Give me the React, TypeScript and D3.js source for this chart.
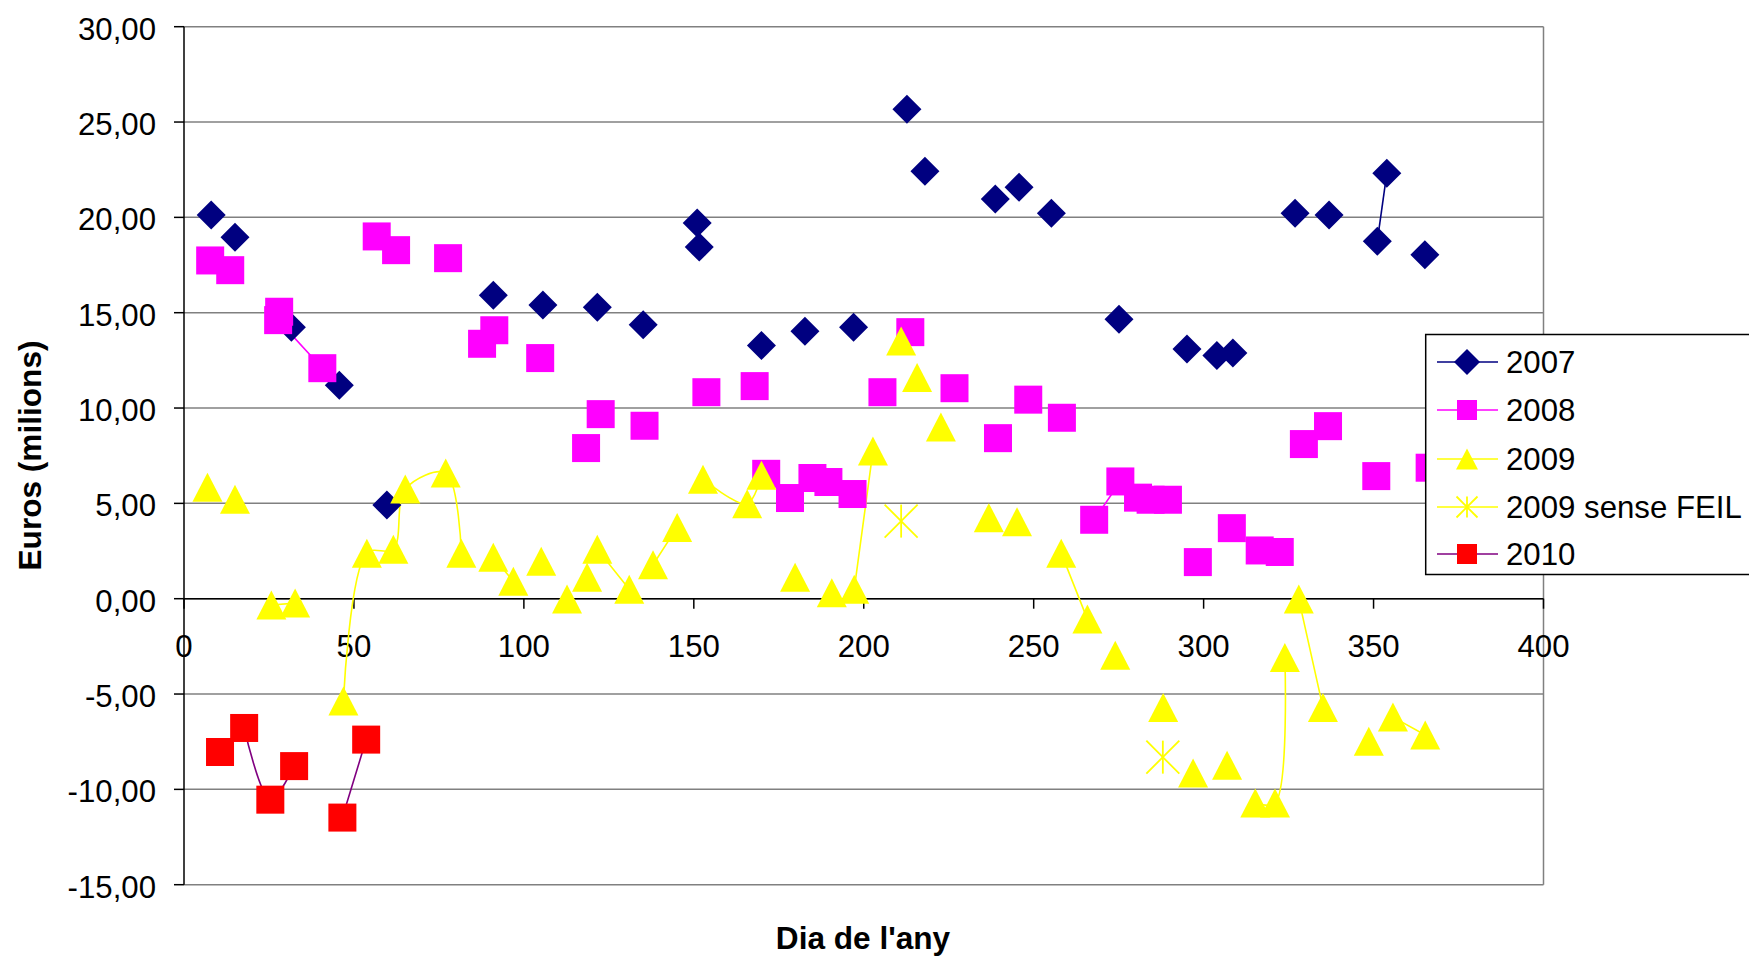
import React from 'react';
import * as d3 from 'd3';

type Pt = [number, number] | null;

// day of year, millions of euros. null = blank row (breaks the line)
const s2007: Pt[] = [
  [8.0, 20.12], null, [15.0, 18.96], null, [31.6, 14.24], null, [45.7, 11.19], null,
  [59.7, 4.91], null, [91.0, 15.92], null, [105.6, 15.4], null, [121.6, 15.29], null,
  [135.1, 14.37], null, [151.0, 19.7], null, [151.6, 18.44], null, [169.9, 13.28], null,
  [182.7, 14.03], null, [197.0, 14.24], null, [212.7, 25.67], null, [218.0, 22.42], null,
  [238.7, 20.96], null, [245.7, 21.58], null, [255.2, 20.22], null, [275.1, 14.66], null,
  [295.1, 13.09], null, [303.9, 12.76], null, [308.6, 12.88], null, [326.9, 20.22], null,
  [336.9, 20.13], null, [351.1, 18.75], [353.9, 22.32], null, [365.1, 18.04],
];

const s2008: Pt[] = [
  [7.7, 17.74], null, [13.6, 17.23], null, [28.0, 15.05], null, [27.7, 14.61], [40.7, 12.09], null,
  [56.7, 19.0], null, [62.4, 18.28], null, [77.7, 17.86], null, [87.7, 13.37], null,
  [91.3, 14.08], null, [104.8, 12.62], null, [118.3, 7.9], null, [122.6, 9.68], null,
  [135.5, 9.07], null, [153.7, 10.83], null, [167.9, 11.15], null, [171.3, 6.55], null,
  [178.3, 5.28], null, [184.9, 6.33], null, [189.6, 6.12], null, [196.7, 5.49], null,
  [205.5, 10.83], null, [213.7, 13.98], null, [226.7, 11.04], null, [239.5, 8.42], null,
  [248.4, 10.44], null, [258.3, 9.49], null, [267.8, 4.14], [275.5, 6.15], null,
  [280.7, 5.3], null, [284.4, 5.19], null, [289.5, 5.19], null, [298.3, 1.92], null,
  [308.3, 3.7], null, [316.5, 2.53], null, [322.4, 2.45], null, [329.5, 8.11], null,
  [336.6, 9.05], null, [350.8, 6.43], null, [366.5, 6.87],
];

const s2009: Pt[] = [
  [6.9, 5.84], null, [15.0, 5.21], null, [25.7, -0.33], [32.7, -0.23], null,
  [46.9, -5.37], [53.8, 2.39], [61.6, 2.6], [65.1, 5.75], [77.0, 6.59], [81.6, 2.39], null,
  [91.0, 2.18], [96.9, 0.92], null, [105.1, 1.97], null, [112.7, -0.02], null,
  [118.6, 1.13], null, [121.6, 2.59], [131.0, 0.49], null, [138.0, 1.78], [145.1, 3.74], null,
  [152.7, 6.27], [165.7, 4.98], [169.9, 6.48], null, [179.8, 1.13], null, [190.6, 0.31], null,
  [197.2, 0.49], [202.7, 7.74], null, [211.0, 13.51], null, [215.7, 11.6], null,
  [222.7, 9.0], null, [236.8, 4.25], null, [245.1, 4.04], null, [258.1, 2.39], [265.8, -1.07], null,
  [274.0, -2.96], null, [288.1, -5.7], null, [296.9, -9.14], null, [306.9, -8.73], null,
  [315.2, -10.72], [321.0, -10.72], [323.9, -3.08], null, [328.0, -0.02], [335.1, -5.7], null,
  [348.6, -7.47], null, [355.7, -6.21], [365.2, -7.15],
];

const s2009SenseFeil: Pt[] = [[211.0, 4.07], null, [288.0, -8.31]];

const s2010: Pt[] = [
  [10.6, -8.04], null, [17.7, -6.78], [25.4, -10.54], [32.4, -8.78], null,
  [46.6, -11.48], [53.6, -7.39],
];

const seriesNames = ['2007', '2008', '2009', '2009 sense FEIL', '2010'];
const seriesData = [s2007, s2008, s2009, s2009SenseFeil, s2010];
const markerShapes = ['diamond', 'square', 'triangle', 'asterisk', 'square'];
const markerColors = ['#000080', '#FF00FF', '#FFFF00', '#FFFF00', '#FF0000'];
const lineColors = ['#000080', '#FF00FF', '#FFFF00', '#FFFF00', '#800080'];

const yTicks = [-15, -10, -5, 0, 5, 10, 15, 20, 25, 30];
const xTicks = [0, 50, 100, 150, 200, 250, 300, 350, 400];

const W = 1749;
const H = 958;
const FONT = "'Liberation Sans', Arial, Helvetica, sans-serif";
const FS = 31.2;

const x = d3.scaleLinear().domain([0, 400]).range([184, 1543.5]);
const y = d3.scaleLinear().domain([-15, 30]).range([884.7, 26.7]);
const fmt = (v: number) => d3.format('.2f')(v).replace('.', ',').replace('−', '-');

function Marker({ shape, cx, cy, big, color }: { shape: string; cx: number; cy: number; big: boolean; color: string }) {
  if (shape === 'diamond') {
    const s = big ? 14.5 : 13;
    return <polygon points={`${cx},${cy - s} ${cx + s},${cy} ${cx},${cy + s} ${cx - s},${cy}`} fill={color} />;
  }
  if (shape === 'square') {
    const s = big ? 28 : 20;
    return <rect x={cx - s / 2} y={cy - s / 2} width={s} height={s} fill={color} />;
  }
  if (shape === 'triangle') {
    const w = big ? 30 : 22;
    const h = big ? 29 : 21;
    return <polygon points={`${cx},${cy - h / 2} ${cx + w / 2},${cy + h / 2} ${cx - w / 2},${cy + h / 2}`} fill={color} />;
  }
  // asterisk: X plus vertical bar
  const r = big ? 16.5 : 10.5;
  return (
    <g stroke={color} strokeWidth={1.8}>
      <line x1={cx - r} y1={cy - r} x2={cx + r} y2={cy + r} />
      <line x1={cx - r} y1={cy + r} x2={cx + r} y2={cy - r} />
      <line x1={cx} y1={cy - r} x2={cx} y2={cy + r} />
    </g>
  );
}

export default function App() {
  const line = d3
    .line<Pt>()
    .defined((d) => d !== null)
    .x((d) => x((d as [number, number])[0]))
    .y((d) => y((d as [number, number])[1]))
    .curve(d3.curveCatmullRom.alpha(0.5));

  const legendRows = [362, 410, 459, 507, 554];

  return (
    <div style={{ position: 'fixed', left: 0, top: 0 }}>
      <svg width={W} height={H} style={{ display: 'block', background: '#fff' }} fontFamily={FONT}>
        {/* gridlines */}
        {yTicks.map((t) => (
          <line key={'g' + t} x1={x(0)} x2={x(400)} y1={y(t)} y2={y(t)} stroke="#808080" strokeWidth={1.5} />
        ))}
        {/* plot area right border */}
        <line x1={x(400)} x2={x(400)} y1={y(30)} y2={y(-15)} stroke="#808080" strokeWidth={1.5} />

        {/* y axis */}
        <line x1={x(0)} x2={x(0)} y1={y(30)} y2={y(-15)} stroke="#000" strokeWidth={1.5} />
        {yTicks.map((t) => (
          <g key={'yt' + t}>
            <line x1={x(0) - 10} x2={x(0)} y1={y(t)} y2={y(t)} stroke="#000" strokeWidth={1.5} />
            <text x={156} y={y(t)} dy={12.8} textAnchor="end" fontSize={FS} fill="#000">
              {fmt(t)}
            </text>
          </g>
        ))}

        {/* x axis at zero */}
        <line x1={x(0)} x2={x(400)} y1={y(0)} y2={y(0)} stroke="#000" strokeWidth={1.5} />
        {xTicks.map((t) => (
          <g key={'xt' + t}>
            <line x1={x(t)} x2={x(t)} y1={y(0)} y2={y(0) + 10} stroke="#000" strokeWidth={1.5} />
            <text x={x(t)} y={y(0) + 58} textAnchor="middle" fontSize={FS} fill="#000">
              {t}
            </text>
          </g>
        ))}

        {/* axis titles */}
        <text
          transform={`translate(41, ${455.5}) rotate(-90)`}
          textAnchor="middle"
          fontSize={31.6}
          fontWeight="bold"
          fill="#000"
        >
          Euros (milions)
        </text>
        <text x={863} y={949} textAnchor="middle" fontSize={31.6} fontWeight="bold" fill="#000">
          Dia de l'any
        </text>

        {/* series lines */}
        {seriesData.map((data, i) => (
          <path key={'l' + i} d={line(data) || ''} fill="none" stroke={lineColors[i]} strokeWidth={1.6} />
        ))}

        {/* series markers */}
        {seriesData.map((data, i) => (
          <g key={'m' + i}>
            {data
              .filter((d): d is [number, number] => d !== null)
              .map((d, j) => (
                <Marker key={j} shape={markerShapes[i]} cx={x(d[0])} cy={y(d[1])} big color={markerColors[i]} />
              ))}
          </g>
        ))}

        {/* legend */}
        <rect x={1425.7} y={334.5} width={340} height={240} fill="#fff" stroke="#000" strokeWidth={1.5} />
        {seriesNames.map((name, i) => (
          <g key={'lg' + i}>
            <line x1={1437} x2={1498} y1={legendRows[i]} y2={legendRows[i]} stroke={lineColors[i]} strokeWidth={1.6} />
            <Marker shape={markerShapes[i]} cx={1467} cy={legendRows[i]} big={false} color={markerColors[i]} />
            <text x={1506} y={legendRows[i]} dy={11.2} fontSize={FS} fill="#000">
              {name}
            </text>
          </g>
        ))}
      </svg>
    </div>
  );
}
